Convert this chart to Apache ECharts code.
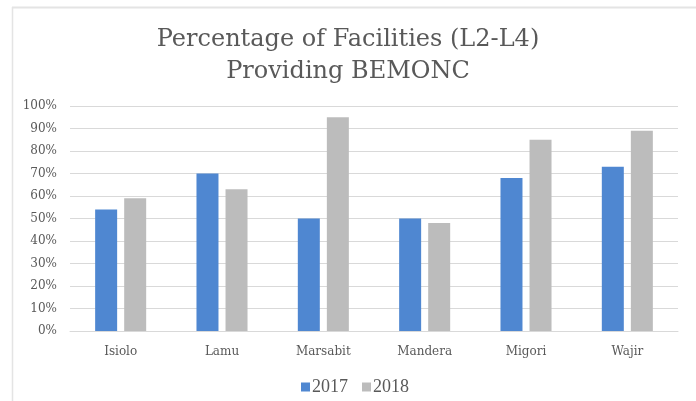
<!DOCTYPE html>
<html>
<head>
<meta charset="utf-8">
<script src="https://cdn.jsdelivr.net/npm/echarts@6/dist/echarts.min.js"></script>
<style>
  html, body { margin: 0; padding: 0; background: #fff; }
  #chart { width: 696px; height: 401px; }
</style>
</head>
<body>
<div id="chart"></div>
<script>
// Counties and share of L2-L4 facilities providing BEMONC (%)
const counties = ['Isiolo', 'Lamu', 'Marsabit', 'Mandera', 'Migori', 'Wajir'];
const values2017 = [54, 70, 50, 50, 68, 73];
const values2018 = [59, 63, 95, 48, 85, 89];
const seriesNames = ['2017', '2018'];
const yTicks = [0, 10, 20, 30, 40, 50, 60, 70, 80, 90, 100];

const chart = echarts.init(document.getElementById('chart'), null, { renderer: 'canvas' });

const serif = 'DejaVu Serif';
const textGray = '#595959';

chart.setOption({
  animation: false,
  backgroundColor: '#fff',
  title: {
    text: 'Percentage of Facilities (L2-L4)\nProviding BEMONC',
    left: 'center',
    top: 19,
    textStyle: {
      fontFamily: serif,
      fontSize: 24,
      fontWeight: 'normal',
      color: textGray,
      lineHeight: 32
    }
  },
  graphic: [
    { type: 'line', shape: { x1: 12, y1: 7.5, x2: 696, y2: 7.5 }, style: { stroke: '#e4e4e4', lineWidth: 2 } },
    { type: 'line', shape: { x1: 12.5, y1: 7, x2: 12.5, y2: 401 }, style: { stroke: '#e4e4e4', lineWidth: 1.5 } }
  ],
  legend: {
    data: seriesNames,
    left: 296,
    top: 373,
    itemWidth: 9,
    itemHeight: 9,
    itemGap: 14,
    icon: 'rect',
    textStyle: { fontFamily: 'Liberation Serif', fontSize: 18, color: textGray, padding: [0, 0, 0, -3] }
  },
  grid: { left: 70, right: 18, top: 106, bottom: 70, containLabel: false },
  xAxis: {
    type: 'category',
    data: counties,
    axisLine: { lineStyle: { color: '#d9d9d9' } },
    axisTick: { show: false },
    axisLabel: { fontFamily: serif, fontSize: 12, color: textGray, margin: 15 }
  },
  yAxis: {
    type: 'value',
    min: yTicks[0],
    max: yTicks[yTicks.length - 1],
    interval: 10,
    axisLine: { show: false },
    axisTick: { show: false },
    splitLine: { lineStyle: { color: '#d9d9d9' } },
    axisLabel: { fontFamily: serif, fontSize: 12, color: textGray, margin: 13, formatter: '{value}%' }
  },
  series: [
    {
      name: seriesNames[0],
      type: 'bar',
      data: values2017,
      barWidth: 22,
      barGap: '32%',
      itemStyle: { color: '#4f87d1' }
    },
    {
      name: seriesNames[1],
      type: 'bar',
      data: values2018,
      barWidth: 22,
      itemStyle: { color: '#bcbcbc' }
    }
  ]
});
</script>
</body>
</html>
